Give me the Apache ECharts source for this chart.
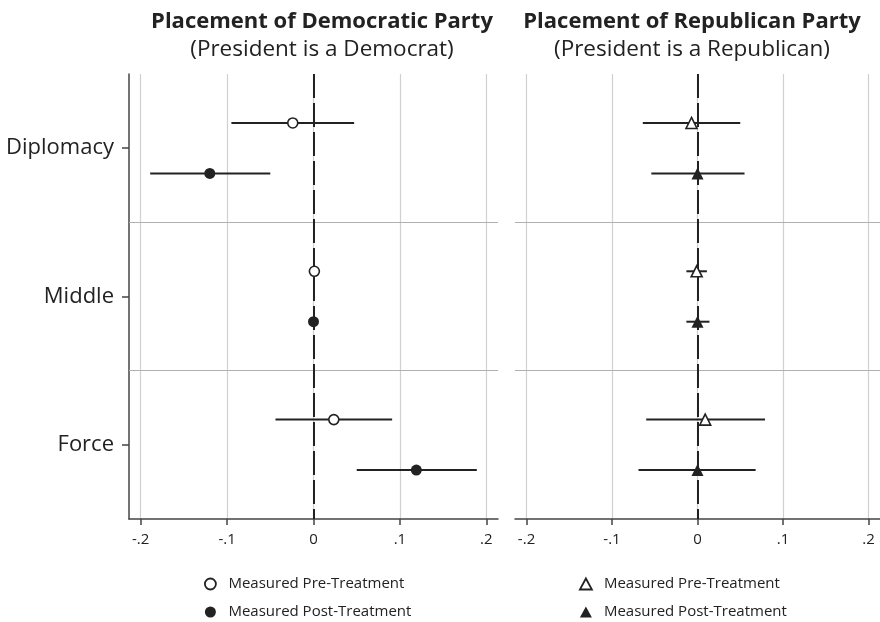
<!DOCTYPE html>
<html>
<head>
<meta charset="utf-8">
<script src="https://cdn.jsdelivr.net/npm/echarts@6/dist/echarts.min.js"></script>
<style>html,body{margin:0;padding:0;background:#fff}#c{width:880px;height:622px}</style>
</head>
<body>
<div id="c"></div>
<script>
// ---- data ----
const categories = ['Diplomacy', 'Middle', 'Force'];
const xTicks = [-0.2, -0.1, 0, 0.1, 0.2];
const xTickLabels = ['-.2', '-.1', '0', '.1', '.2'];
const legendNames = ['Measured Pre-Treatment', 'Measured Post-Treatment'];

// Placement of Democratic Party (President is a Democrat)
const demPreEst  = [-0.024, 0.001, 0.0235];
const demPreLo   = [-0.095, -0.003, -0.044];
const demPreHi   = [0.047, 0.005, 0.091];
const demPostEst = [-0.120, 0.000, 0.119];
const demPostLo  = [-0.189, -0.003, 0.050];
const demPostHi  = [-0.050, 0.003, 0.189];

// Placement of Republican Party (President is a Republican)
const repPreEst  = [-0.007, -0.001, 0.009];
const repPreLo   = [-0.064, -0.013, -0.060];
const repPreHi   = [0.050, 0.011, 0.079];
const repPostEst = [0.000, 0.000, 0.000];
const repPostLo  = [-0.054, -0.013, -0.069];
const repPostHi  = [0.055, 0.014, 0.068];

// ---- layout / style ----
const OFF = 0.17;           // vertical offset of pre/post rows within a band
const XR = 0.2135;
const FONT = 'Open Sans';
const INK = '#222';

function yPos(i, isPre) { return i + 0.5 + (isPre ? -OFF : OFF); }

function errBars(lo, hi, isPre, idx) {
  return {
    type: 'custom', xAxisIndex: idx, yAxisIndex: idx, z: 3, silent: true,
    data: categories.map((c, i) => [lo[i], hi[i], yPos(i, isPre)]),
    encode: { x: [0, 1], y: 2 },
    renderItem: function (params, api) {
      const a = api.coord([api.value(0), api.value(2)]);
      const b = api.coord([api.value(1), api.value(2)]);
      return { type: 'line', shape: { x1: a[0], y1: a[1], x2: b[0], y2: b[1] },
               style: { stroke: INK, lineWidth: 2 } };
    }
  };
}

function points(name, est, isPre, idx, symbol, hollow, size) {
  return {
    type: 'scatter', name: name, xAxisIndex: idx, yAxisIndex: idx, z: 5, silent: true,
    symbol: symbol, symbolSize: size,
    data: categories.map((c, i) => [est[i], yPos(i, isPre)]),
    itemStyle: hollow ? { color: '#fff', borderColor: INK, borderWidth: 1.6, opacity: 1 }
                      : { color: INK, borderColor: INK, borderWidth: 0, opacity: 1 }
  };
}

function guides(idx) {
  return {
    type: 'line', xAxisIndex: idx, yAxisIndex: idx, data: [], z: 1, silent: true,
    markLine: {
      silent: true, symbol: 'none', animation: false, label: { show: false },
      data: [
        { yAxis: 1, lineStyle: { color: '#b0b0b0', width: 1, type: 'solid' } },
        { yAxis: 2, lineStyle: { color: '#b0b0b0', width: 1, type: 'solid' } },
        { xAxis: 0, lineStyle: { color: INK, width: 2, type: [24, 5] } }
      ]
    }
  };
}

function xAxis(idx) {
  return {
    type: 'value', gridIndex: idx, min: -XR, max: XR,
    axisLine: { show: true, onZero: false, lineStyle: { color: '#444', width: 1.5 } },
    axisTick: { show: true, length: 6, customValues: xTicks, lineStyle: { color: '#444', width: 1.5 } },
    axisLabel: { customValues: xTicks, margin: 13, fontFamily: FONT, fontSize: 15, color: INK,
                 formatter: v => { const k = xTicks.findIndex(t => Math.abs(t - v) < 1e-9); return k >= 0 ? xTickLabels[k] : ''; } },
    splitLine: { show: true, lineStyle: { color: '#d0d0d0', width: 1.2 } }
  };
}

function yAxis(idx, show) {
  return {
    type: 'value', gridIndex: idx, min: 0, max: 3, inverse: true,
    axisLine: { show: show, onZero: false, lineStyle: { color: '#444', width: 1.5 } },
    axisTick: { show: show, length: 7, inside: false, customValues: [0.5, 1.5, 2.5], lineStyle: { color: '#444', width: 1.5 } },
    axisLabel: { show: show, customValues: [0.5, 1.5, 2.5], margin: 15, fontFamily: FONT, fontSize: 22, color: INK,
                 formatter: v => categories[Math.round(v - 0.5)] || '' },
    splitLine: { show: false }
  };
}

function legend(left, icon, h) {
  return {
    orient: 'vertical', left: left, top: 570, height: 80, itemWidth: 12, itemHeight: h, itemGap: 10,
    selectedMode: false,
    textStyle: { fontFamily: FONT, fontSize: 15, color: INK, lineHeight: 18, padding: [0, 0, 0, 7] },
    data: [
      { name: legendNames[0], icon: icon, itemStyle: { color: '#fff', borderColor: INK, borderWidth: 1.8 } },
      { name: legendNames[1], icon: icon, itemStyle: { color: INK, borderWidth: 0 } }
    ]
  };
}

const chart = echarts.init(document.getElementById('c'), null, { renderer: 'canvas' });
chart.setOption({
  animation: false,
  backgroundColor: '#fff',
  title: [
    { text: 'Placement of Democratic Party', subtext: '(President is a Democrat)',
      left: 317, textAlign: 'center', top: 6, itemGap: 5,
      textStyle: { fontFamily: FONT, fontWeight: 'bold', fontSize: 22, color: INK },
      subtextStyle: { fontFamily: FONT, fontSize: 22.5, color: INK } },
    { text: 'Placement of Republican Party', subtext: '(President is a Republican)',
      left: 687, textAlign: 'center', top: 6, itemGap: 5,
      textStyle: { fontFamily: FONT, fontWeight: 'bold', fontSize: 22, color: INK },
      subtextStyle: { fontFamily: FONT, fontSize: 22.5, color: INK } }
  ],
  grid: [
    { left: 129, top: 74, width: 369, height: 445 },
    { left: 515, top: 74, width: 369, height: 445 }
  ],
  xAxis: [xAxis(0), xAxis(1)],
  yAxis: [yAxis(0, true), yAxis(1, false)],
  legend: [legend(199, 'circle', 11), legend(574, 'triangle', 11)],
  series: [
    guides(0), guides(1),
    errBars(demPreLo, demPreHi, true, 0),
    errBars(demPostLo, demPostHi, false, 0),
    errBars(repPreLo, repPreHi, true, 1),
    errBars(repPostLo, repPostHi, false, 1),
    points(legendNames[0], demPreEst, true, 0, 'circle', true, 10),
    points(legendNames[1], demPostEst, false, 0, 'circle', false, 11),
    points(legendNames[0], repPreEst, true, 1, 'triangle', true, 11),
    points(legendNames[1], repPostEst, false, 1, 'triangle', false, 12)
  ]
});
</script>
</body>
</html>
